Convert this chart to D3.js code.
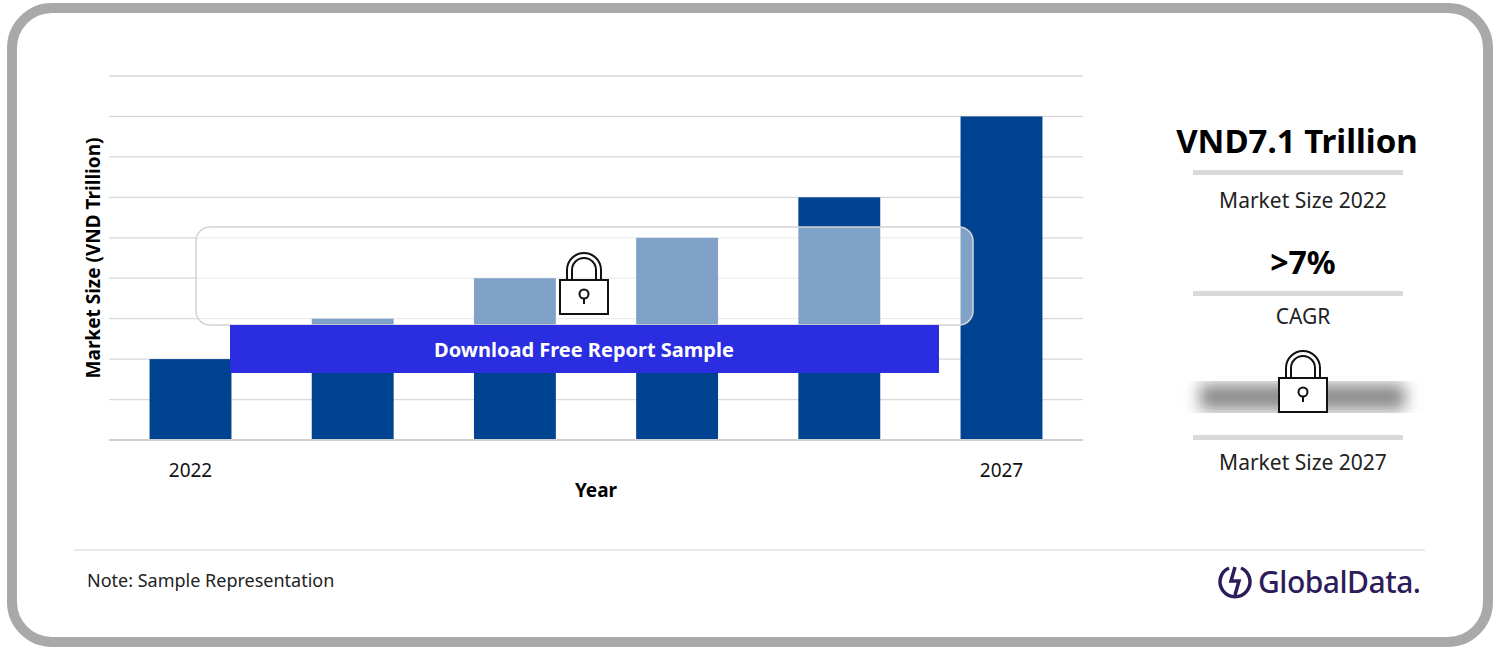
<!DOCTYPE html>
<html><head><meta charset="utf-8">
<script src="https://cdn.jsdelivr.net/npm/d3@7"></script>
<style>body{margin:0;background:#fff;}svg{display:block;font-family:"Noto Sans",sans-serif;}</style>
</head><body>
<svg width="1499" height="650"></svg>
<script>
var years = ["2022","2023","2024","2025","2026","2027"];
var values = [2, 3, 4, 5, 6, 8];
var shownTicks = ["2022","2027"];
var svg = d3.select("svg");

// card
svg.append("rect").attr("x",12).attr("y",8).attr("width",1476).attr("height",634).attr("rx",40)
  .attr("fill","#fff").attr("stroke","#a9a9a9").attr("stroke-width",10);

var x = d3.scaleBand().domain(years).range([109,1083]).paddingInner(0.495).paddingOuter(0.25);
var y = d3.scaleLinear().domain([0,9]).range([440,76]);

svg.append("g").selectAll("line").data(d3.range(0,10)).join("line")
  .attr("x1",109).attr("x2",1083).attr("y1",d=>y(d)).attr("y2",d=>y(d))
  .attr("stroke","#d9d9d9").attr("stroke-width",1.3);

svg.append("g").selectAll("rect").data(values).join("rect")
  .attr("x",(d,i)=>x(years[i])).attr("width",x.bandwidth())
  .attr("y",d=>y(d)).attr("height",d=>y(0)-y(d)).attr("fill","#004391");

svg.append("line").attr("x1",109).attr("x2",1083).attr("y1",y(0)).attr("y2",y(0)).attr("stroke","#d0d0d0").attr("stroke-width",2);

var xa = svg.append("g").attr("transform","translate(0,"+y(0)+")")
  .call(d3.axisBottom(x).tickValues(shownTicks).tickSize(0).tickPadding(24));
xa.select(".domain").remove();
xa.selectAll("text").attr("font-size",19).attr("fill","#111").attr("font-family","Noto Sans");

svg.append("text").attr("x",596).attr("y",497).attr("text-anchor","middle").attr("font-weight","bold").attr("font-size",19).text("Year");
svg.append("text").attr("transform","translate(100,258) rotate(-90)").attr("text-anchor","middle")
  .attr("font-weight","bold").attr("font-size",19).text("Market Size (VND Trillion)");

// overlay
svg.append("rect").attr("x",196).attr("y",227).attr("width",777).attr("height",98).attr("rx",14)
  .attr("fill","#fff").attr("fill-opacity",0.5).attr("stroke","#d4d4d4").attr("stroke-width",1.5);
svg.append("rect").attr("x",230).attr("y",325).attr("width",709).attr("height",48).attr("fill","#2b2ee0");
svg.append("text").attr("x",584).attr("y",357).attr("text-anchor","middle").attr("fill","#fff")
  .attr("font-weight","bold").attr("font-size",20).text("Download Free Report Sample");

function lock(cx, top){
  var g = svg.append("g").attr("fill","none").attr("stroke","#111").attr("stroke-width",2);
  g.append("path").attr("d","M"+(cx-17)+","+(top+28)+" v-10 a17,17 0 0 1 34,0 v10");
  g.append("path").attr("d","M"+(cx-12)+","+(top+28)+" v-10 a12,12 0 0 1 24,0 v10");
  g.append("rect").attr("x",cx-24).attr("y",top+28).attr("width",48).attr("height",34).attr("fill","#fff");
  g.append("circle").attr("cx",cx).attr("cy",top+42).attr("r",4.5);
  g.append("line").attr("x1",cx).attr("x2",cx).attr("y1",top+46).attr("y2",top+52);
}
lock(584,252);

// side panel
svg.append("text").attr("x",1297).attr("y",153).attr("text-anchor","middle").attr("font-weight","bold").attr("font-size",33).text("VND7.1 Trillion");
[172,293,437].forEach(function(v){svg.append("rect").attr("x",1193).attr("y",v-2).attr("width",210).attr("height",5).attr("fill","#d9d9d9");});
svg.append("text").attr("x",1303).attr("y",208).attr("text-anchor","middle").attr("font-size",21).attr("fill","#222").text("Market Size 2022");
svg.append("text").attr("x",1303).attr("y",274).attr("text-anchor","middle").attr("font-weight","bold").attr("font-size",32).text(">7%");
svg.append("text").attr("x",1303).attr("y",324).attr("text-anchor","middle").attr("font-size",21).attr("fill","#222").text("CAGR");
var defs = svg.append("defs");
defs.append("filter").attr("id","blur").append("feGaussianBlur").attr("stdDeviation",8);
svg.append("rect").attr("x",1200).attr("y",384).attr("width",205).attr("height",26).attr("fill","#8a8a8a").attr("filter","url(#blur)");
lock(1303,350);
svg.append("text").attr("x",1303).attr("y",470).attr("text-anchor","middle").attr("font-size",21).attr("fill","#222").text("Market Size 2027");

svg.append("line").attr("x1",74).attr("x2",1425).attr("y1",550).attr("y2",550).attr("stroke","#e3e3e3").attr("stroke-width",1.5);
svg.append("text").attr("x",87).attr("y",587).attr("font-size",18).attr("fill","#222").text("Note: Sample Representation");

// logo
var lg = svg.append("g").attr("fill","none").attr("stroke","#2c1c5a").attr("stroke-width",3.5);
lg.append("path").attr("d","M1229,568 a15,15 0 1 0 12,0");
lg.append("path").attr("d","M1235,567 l-4,14 l8,0 l-4,14");
svg.append("text").attr("x",1258).attr("y",593).attr("font-size",30).attr("fill","#2c1c5a").attr("font-weight",500).attr("letter-spacing",-0.5).text("GlobalData.");
</script>
</body></html>
